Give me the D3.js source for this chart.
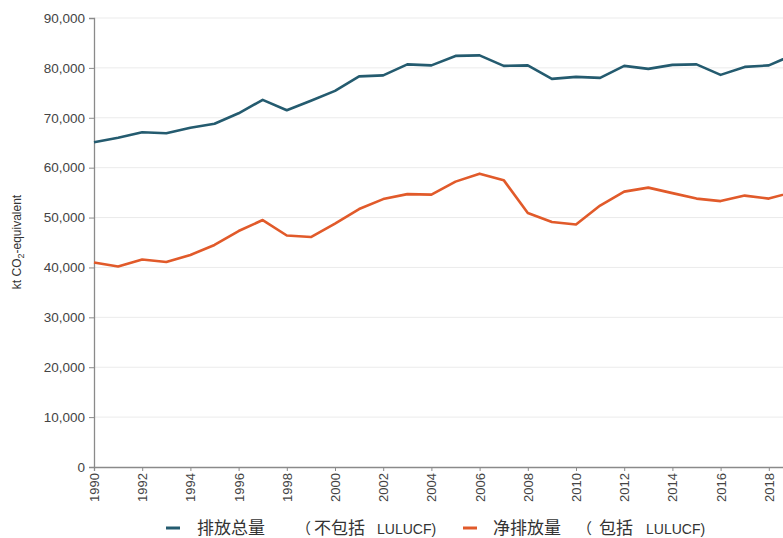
<!DOCTYPE html>
<html>
<head>
<meta charset="utf-8">
<script src="https://cdn.jsdelivr.net/npm/d3@7"></script>
<style>
  html, body { margin: 0; padding: 0; background: #fff; }
  svg { display: block; font-family: "Liberation Sans", Arial, sans-serif; }
</style>
</head>
<body>
<svg id="chart" width="783" height="538"></svg>
<script>
const years = d3.range(1990, 2020);
const grossEmissions = [65100, 66000, 67100, 66900, 68000, 68800, 70900, 73600, 71500, 73400,
                        75400, 78300, 78500, 80700, 80500, 82400, 82500, 80400, 80500, 77800,
                        78200, 78000, 80400, 79800, 80600, 80700, 78600, 80200, 80500, 82600];
const netEmissions = [41000, 40200, 41600, 41100, 42500, 44500, 47300, 49500, 46400, 46100,
                      48800, 51700, 53700, 54700, 54600, 57200, 58800, 57500, 50900, 49100,
                      48600, 52400, 55200, 56000, 54900, 53800, 53300, 54400, 53800, 55100];
const yTicks = [0, 10000, 20000, 30000, 40000, 50000, 60000, 70000, 80000, 90000];
const xTicks = d3.range(1990, 2019, 2);
const seriesNames = ["排放总量", "净排放量"];
const seriesColors = ["#245b6f", "#e15a2a"];

const svg = d3.select("#chart");
const margin = { left: 94, top: 18 };
const plotH = 449;
const yearStep = 24.1;

const x = d3.scaleLinear().domain([1990, 2019]).range([margin.left, margin.left + 29 * yearStep]);
const y = d3.scaleLinear().domain([0, 90000]).range([margin.top + plotH, margin.top]);

// gridlines
svg.append("g")
  .selectAll("line")
  .data(yTicks.filter(d => d > 0))
  .join("line")
  .attr("x1", margin.left).attr("x2", 783)
  .attr("y1", d => y(d)).attr("y2", d => y(d))
  .attr("stroke", "#ebebeb").attr("stroke-width", 1);

// y axis
const yAxis = svg.append("g")
  .attr("transform", `translate(${margin.left},0)`)
  .call(d3.axisLeft(y).tickValues(yTicks).tickSize(5).tickPadding(4).tickFormat(d3.format(",")));
yAxis.select(".domain").attr("stroke", "#8a8a8a").attr("stroke-width", 1.3);
yAxis.selectAll(".tick line").attr("stroke", "#8a8a8a");
yAxis.selectAll("text").attr("fill", "#444").style("font-size", "13.5px")
  .style("font-family", "'Liberation Sans', Arial, sans-serif");

// x axis
const xAxis = svg.append("g")
  .attr("transform", `translate(0,${y(0)})`)
  .call(d3.axisBottom(x).tickValues(xTicks).tickSize(4).tickFormat(d3.format("d")));
xAxis.select(".domain").attr("stroke", "#8a8a8a").attr("stroke-width", 1.3);
xAxis.selectAll(".tick line").attr("stroke", "#8a8a8a");
xAxis.selectAll("text")
  .attr("fill", "#444").style("font-size", "13px")
  .attr("transform", "rotate(-90)")
  .attr("text-anchor", "end")
  .attr("x", -6).attr("y", 0).attr("dy", "0.35em");

// y-axis title
const yt = svg.append("text")
  .attr("transform", `translate(21,${margin.top + 224}) rotate(-90)`)
  .attr("text-anchor", "middle")
  .attr("fill", "#333")
  .style("font-size", "12px");
yt.append("tspan").text("kt CO");
yt.append("tspan").text("2").attr("dy", 3).style("font-size", "9px");
yt.append("tspan").text("-equivalent").attr("dy", -3);

// lines
const line = d3.line().x((d, i) => x(years[i])).y(d => y(d));
[grossEmissions, netEmissions].forEach((s, i) => {
  svg.append("path")
    .datum(s)
    .attr("fill", "none")
    .attr("stroke", seriesColors[i])
    .attr("stroke-width", 2.6)
    .attr("stroke-linejoin", "round")
    .attr("d", line);
});

// legend
const legendY = 528;
const legendItems = [
  { sx: 166, name: seriesNames[0], nx: 197, paren: "（", px: 296, inc: "不包括", ix: 314, lx: 377 },
  { sx: 463, name: seriesNames[1], nx: 493, paren: "（", px: 577, inc: "包括", ix: 599, lx: 646 }
];
const cjk = "'Noto Sans CJK SC', 'Noto Sans', sans-serif";
legendItems.forEach((it, i) => {
  const g = svg.append("g");
  g.append("line").attr("x1", it.sx).attr("x2", it.sx + 14)
    .attr("y1", legendY).attr("y2", legendY)
    .attr("stroke", seriesColors[i]).attr("stroke-width", 3);
  g.append("text").attr("x", it.nx).attr("y", legendY + 6).text(it.name)
    .attr("fill", "#333").style("font-size", "17px").style("font-family", cjk);
  g.append("text").attr("x", it.px).attr("y", legendY + 6).text(it.paren)
    .attr("fill", "#333").style("font-size", "15px").style("font-family", cjk);
  g.append("text").attr("x", it.ix).attr("y", legendY + 6).text(it.inc)
    .attr("fill", "#333").style("font-size", "17px").style("font-family", cjk);
  g.append("text").attr("x", it.lx).attr("y", legendY + 6).text("LULUCF)")
    .attr("fill", "#333").style("font-size", "14px");
});
</script>
</body>
</html>
